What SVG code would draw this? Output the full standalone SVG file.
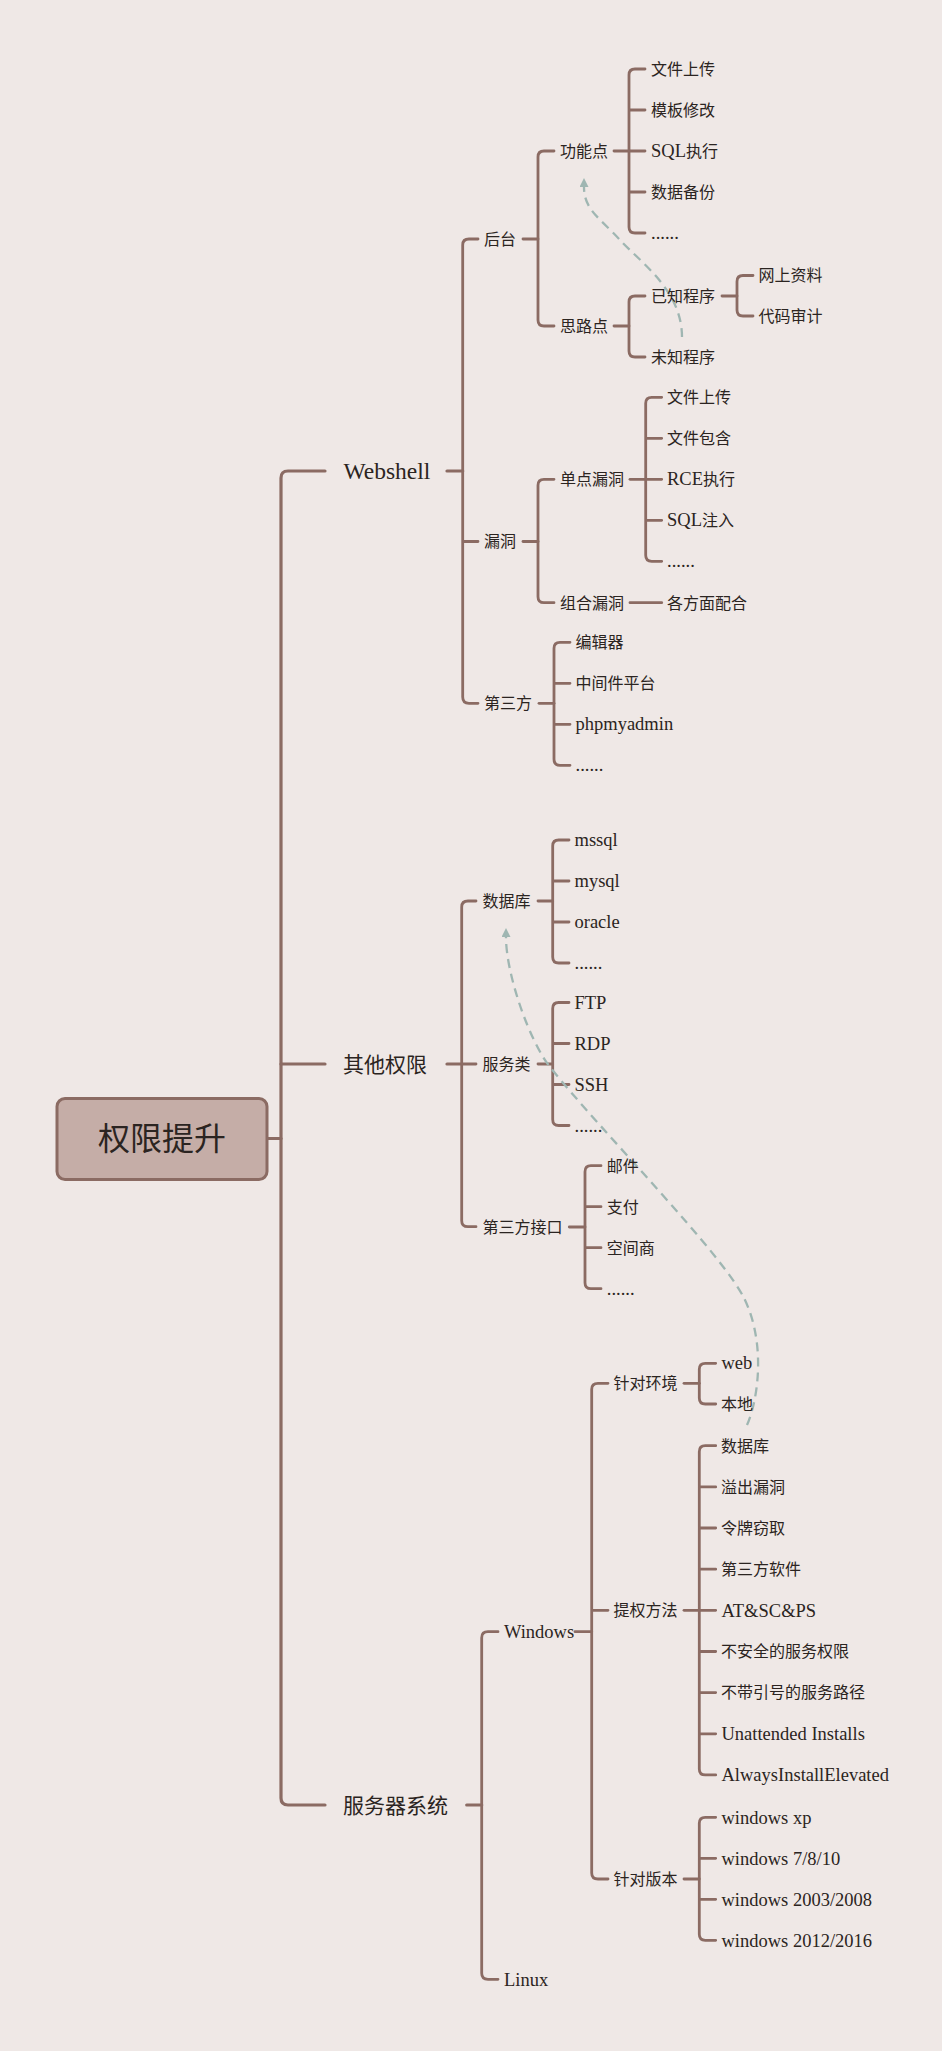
<svg xmlns="http://www.w3.org/2000/svg" width="942" height="2051" viewBox="0 0 942 2051">
<defs>
<style>
.c{font-family:"Noto Sans CJK SC","Noto Sans",sans-serif;font-size:16px;fill:#2b2421}
.e{font-family:"Liberation Serif","Noto Sans CJK SC",serif;font-size:18.5px;fill:#2b2421}
.c1{font-family:"Noto Sans CJK SC","Noto Sans",sans-serif;font-size:21px;fill:#2b2421}
.e1{font-family:"Liberation Serif",serif;font-size:23.5px;fill:#2b2421}
.root{font-family:"Noto Sans CJK SC",sans-serif;font-size:32px;fill:#2b2421}
.ln{fill:none;stroke:#8b6b63;stroke-width:2.8;stroke-linecap:round}
.ln1{fill:none;stroke:#8b6b63;stroke-width:3.2;stroke-linecap:round}
.dash{fill:none;stroke:#9fb6b2;stroke-width:2.3;stroke-dasharray:9 6}
</style>
<marker id="ah" viewBox="0 0 10 10" refX="0" refY="5" markerWidth="9" markerHeight="9" markerUnits="userSpaceOnUse" orient="auto">
<path d="M0,0 L10,5 L0,10 z" fill="#9fb6b2"/>
</marker>
</defs>
<rect x="0" y="0" width="942" height="2051" fill="#efe8e6"/>

<g id="connectors">
<!-- root -->
<path class="ln1" d="M267,1138.5 H281"/>
<path class="ln1" d="M325,471 H288 Q281,471 281,478 V1798 Q281,1805 288,1805 H325"/>
<path class="ln1" d="M281,1064 H325"/>
<!-- Webshell -->
<path class="ln1" d="M447,471 H462.7"/>
<path class="ln" d="M478,239 H469 Q462.7,239 462.7,245 V697 Q462.7,703.3 469,703.3 H478 M462.7,541.5 H478"/>
<!-- 后台 -->
<path class="ln" d="M523,239 H538"/>
<path class="ln" d="M554,151 H544 Q538,151 538,157 V320 Q538,326 544,326 H554"/>
<!-- 功能点 -->
<path class="ln" d="M614,151 H629"/>
<path class="ln" d="M645,69 H635 Q629,69 629,75 V227 Q629,233 635,233 H645 M629,110 H645 M629,151 H645 M629,192 H645"/>
<!-- 思路点 -->
<path class="ln" d="M614,326 H629"/>
<path class="ln" d="M645,296 H635 Q629,296 629,302 V351 Q629,357 635,357 H645"/>
<!-- 已知程序 -->
<path class="ln" d="M722,296 H737"/>
<path class="ln" d="M753,275.5 H743 Q737,275.5 737,281.5 V310 Q737,316 743,316 H753"/>
<!-- 漏洞 -->
<path class="ln" d="M523,541.5 H538"/>
<path class="ln" d="M554,479.3 H544 Q538,479.3 538,485.3 V596.7 Q538,602.7 544,602.7 H554"/>
<!-- 单点漏洞 -->
<path class="ln" d="M630,479.3 H645.7"/>
<path class="ln" d="M661.7,397.3 H651.7 Q645.7,397.3 645.7,403.3 V555.3 Q645.7,561.3 651.7,561.3 H661.7 M645.7,438.3 H661.7 M645.7,479.3 H661.7 M645.7,520.3 H661.7"/>
<!-- 组合漏洞 -->
<path class="ln" d="M630,602.7 H661.7"/>
<!-- 第三方 -->
<path class="ln" d="M539,703.3 H554"/>
<path class="ln" d="M570,642.3 H560 Q554,642.3 554,648.3 V759.3 Q554,765.3 560,765.3 H570 M554,683.3 H570 M554,724.3 H570"/>
<!-- 其他权限 -->
<path class="ln1" d="M447,1064 H461.7"/>
<path class="ln" d="M476,901 H468 Q461.7,901 461.7,907 V1220.7 Q461.7,1226.7 468,1226.7 H476 M461.7,1064 H476"/>
<!-- 数据库 -->
<path class="ln" d="M538,901 H552.7"/>
<path class="ln" d="M569,840 H558.7 Q552.7,840 552.7,846 V957 Q552.7,963 558.7,963 H569 M552.7,881 H569 M552.7,922 H569"/>
<!-- 服务类 -->
<path class="ln" d="M538,1064 H552.7"/>
<path class="ln" d="M569,1002.5 H558.7 Q552.7,1002.5 552.7,1008.5 V1119.5 Q552.7,1125.5 558.7,1125.5 H569 M552.7,1043.5 H569 M552.7,1084.5 H569"/>
<!-- 第三方接口 -->
<path class="ln" d="M569.3,1227 H585"/>
<path class="ln" d="M601,1165.7 H591 Q585,1165.7 585,1171.7 V1282.7 Q585,1288.7 591,1288.7 H601 M585,1206.7 H601 M585,1247.7 H601"/>
<!-- 服务器系统 -->
<path class="ln1" d="M466.7,1805 H481.7"/>
<path class="ln" d="M498,1631.7 H488 Q481.7,1631.7 481.7,1637.7 V1973.3 Q481.7,1979.3 488,1979.3 H498"/>
<!-- Windows -->
<path class="ln" d="M575,1631.7 H591.7"/>
<path class="ln" d="M608,1383.3 H598 Q591.7,1383.3 591.7,1389.3 V1873 Q591.7,1879 598,1879 H608 M591.7,1610.3 H608"/>
<!-- 针对环境 -->
<path class="ln" d="M684,1383.3 H699.3"/>
<path class="ln" d="M715.7,1363.3 H705.3 Q699.3,1363.3 699.3,1369.3 V1398 Q699.3,1404 705.3,1404 H715.7"/>
<!-- 提权方法 -->
<path class="ln" d="M684,1610.3 H699.3"/>
<path class="ln" d="M715.7,1445.7 H705.3 Q699.3,1445.7 699.3,1451.7 V1768.9 Q699.3,1774.9 705.3,1774.9 H715.7 M699.3,1486.9 H715.7 M699.3,1528 H715.7 M699.3,1569.2 H715.7 M699.3,1610.3 H715.7 M699.3,1651.5 H715.7 M699.3,1692.6 H715.7 M699.3,1733.8 H715.7"/>
<!-- 针对版本 -->
<path class="ln" d="M684,1879 H699.3"/>
<path class="ln" d="M715.7,1817.3 H705.3 Q699.3,1817.3 699.3,1823.3 V1934.3 Q699.3,1940.3 705.3,1940.3 H715.7 M699.3,1858.3 H715.7 M699.3,1899.3 H715.7"/>
<!-- dashed relations -->
<path class="dash" d="M682,337 C682,290 640,262 620,240 C600,218 584,210 584,187" marker-end="url(#ah)"/>
<path class="dash" d="M747,1425 C758,1400 766,1345 745,1300 C724,1255 600,1130 550,1067 C530,1042 506,975 506,937" marker-end="url(#ah)"/>
</g>

<g id="n-root">
<rect x="57" y="1098.5" width="210" height="81" rx="8" fill="#c5ada7" stroke="#8b6b63" stroke-width="3"/>
<text class="root" x="162" y="1150" text-anchor="middle">权限提升</text>
</g>

<g id="n-webshell"><text class="e1" x="343.5" y="478.8">Webshell</text></g>
<g id="n-other"><text class="c1" x="343" y="1071.5">其他权限</text></g>
<g id="n-server"><text class="c1" x="343" y="1812.5">服务器系统</text></g>

<g id="n-houtai"><text class="c" x="484" y="244.8">后台</text></g>
<g id="n-gongneng"><text class="c" x="560" y="156.8">功能点</text></g>
<g id="n-g1"><text class="c" x="651" y="74.8">文件上传</text></g>
<g id="n-g2"><text class="c" x="651" y="115.8">模板修改</text></g>
<g id="n-g3"><text class="c" x="651" y="156.8"><tspan class="e">SQL</tspan>执行</text></g>
<g id="n-g4"><text class="c" x="651" y="197.8">数据备份</text></g>
<g id="n-g5"><text class="e" x="651" y="239">......</text></g>
<g id="n-silu"><text class="c" x="560" y="331.8">思路点</text></g>
<g id="n-known"><text class="c" x="651" y="301.8">已知程序</text></g>
<g id="n-k1"><text class="c" x="758.5" y="281.3">网上资料</text></g>
<g id="n-k2"><text class="c" x="758.5" y="321.8">代码审计</text></g>
<g id="n-unknown"><text class="c" x="651" y="362.8">未知程序</text></g>

<g id="n-loudong"><text class="c" x="484" y="547.3">漏洞</text></g>
<g id="n-single"><text class="c" x="560" y="485.1">单点漏洞</text></g>
<g id="n-s1"><text class="c" x="667" y="403.1">文件上传</text></g>
<g id="n-s2"><text class="c" x="667" y="444.1">文件包含</text></g>
<g id="n-s3"><text class="c" x="667" y="485.1"><tspan class="e">RCE</tspan>执行</text></g>
<g id="n-s4"><text class="c" x="667" y="526.1"><tspan class="e">SQL</tspan>注入</text></g>
<g id="n-s5"><text class="e" x="667" y="567.3">......</text></g>
<g id="n-combo"><text class="c" x="560" y="608.5">组合漏洞</text></g>
<g id="n-c1"><text class="c" x="667" y="608.5">各方面配合</text></g>

<g id="n-third"><text class="c" x="484" y="709.1">第三方</text></g>
<g id="n-t1"><text class="c" x="575.5" y="648.1">编辑器</text></g>
<g id="n-t2"><text class="c" x="575.5" y="689.1">中间件平台</text></g>
<g id="n-t3"><text class="e" x="575.5" y="730.1">phpmyadmin</text></g>
<g id="n-t4"><text class="e" x="575.5" y="771.3">......</text></g>

<g id="n-db"><text class="c" x="482.5" y="906.8">数据库</text></g>
<g id="n-d1"><text class="e" x="574.5" y="845.8">mssql</text></g>
<g id="n-d2"><text class="e" x="574.5" y="886.8">mysql</text></g>
<g id="n-d3"><text class="e" x="574.5" y="927.8">oracle</text></g>
<g id="n-d4"><text class="e" x="574.5" y="969">......</text></g>
<g id="n-svc"><text class="c" x="482.5" y="1069.8">服务类</text></g>
<g id="n-v1"><text class="e" x="574.5" y="1008.5">FTP</text></g>
<g id="n-v2"><text class="e" x="574.5" y="1049.5">RDP</text></g>
<g id="n-v3"><text class="e" x="574.5" y="1090.5">SSH</text></g>
<g id="n-v4"><text class="e" x="574.5" y="1131.5">......</text></g>
<g id="n-api"><text class="c" x="482.5" y="1232.8">第三方接口</text></g>
<g id="n-a1"><text class="c" x="606.8" y="1171.5">邮件</text></g>
<g id="n-a2"><text class="c" x="606.8" y="1212.5">支付</text></g>
<g id="n-a3"><text class="c" x="606.8" y="1253.5">空间商</text></g>
<g id="n-a4"><text class="e" x="606.8" y="1294.7">......</text></g>

<g id="n-windows"><text class="e" x="504" y="1637.8">Windows</text></g>
<g id="n-env"><text class="c" x="613.5" y="1389.1">针对环境</text></g>
<g id="n-e1"><text class="e" x="721.5" y="1369.3">web</text></g>
<g id="n-e2"><text class="c" x="721" y="1409.8">本地</text></g>
<g id="n-method"><text class="c" x="613.5" y="1616.1">提权方法</text></g>
<g id="n-m1"><text class="c" x="721" y="1451.5">数据库</text></g>
<g id="n-m2"><text class="c" x="721" y="1492.7">溢出漏洞</text></g>
<g id="n-m3"><text class="c" x="721" y="1533.8">令牌窃取</text></g>
<g id="n-m4"><text class="c" x="721" y="1575">第三方软件</text></g>
<g id="n-m5"><text class="e" x="721.5" y="1616.5">AT&amp;SC&amp;PS</text></g>
<g id="n-m6"><text class="c" x="721" y="1657.3">不安全的服务权限</text></g>
<g id="n-m7"><text class="c" x="721" y="1698.4">不带引号的服务路径</text></g>
<g id="n-m8"><text class="e" x="721.5" y="1740">Unattended Installs</text></g>
<g id="n-m9"><text class="e" x="721.5" y="1781.1">AlwaysInstallElevated</text></g>
<g id="n-ver"><text class="c" x="613.5" y="1884.8">针对版本</text></g>
<g id="n-w1"><text class="e" x="721.5" y="1823.5">windows xp</text></g>
<g id="n-w2"><text class="e" x="721.5" y="1864.5">windows 7/8/10</text></g>
<g id="n-w3"><text class="e" x="721.5" y="1905.5">windows 2003/2008</text></g>
<g id="n-w4"><text class="e" x="721.5" y="1946.5">windows 2012/2016</text></g>
<g id="n-linux"><text class="e" x="504" y="1985.5">Linux</text></g>
</svg>
